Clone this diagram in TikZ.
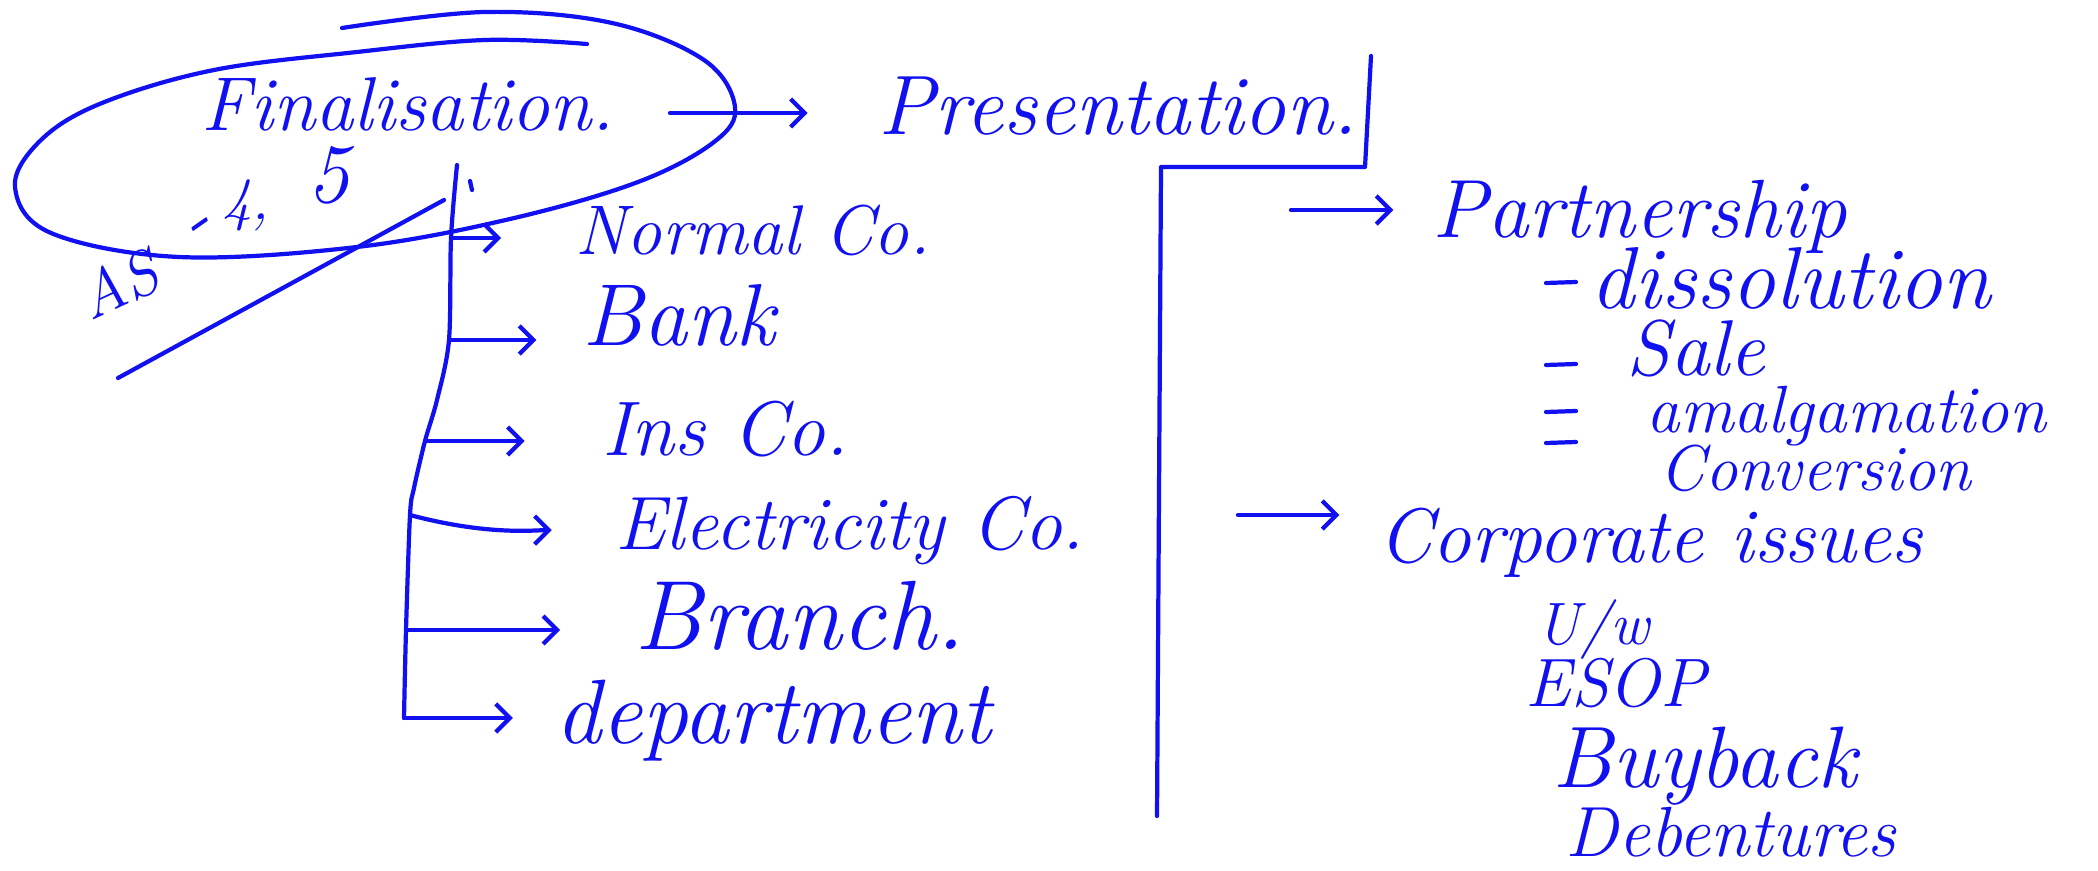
\documentclass[tikz,border=0pt]{standalone}
\usepackage{fontspec}
\usetikzlibrary{arrows.meta,positioning,calc}
\definecolor{InkBlue}{HTML}{1010F0}
\tikzset{
  hand/.style={text=InkBlue,inner sep=0pt,anchor=base west,font=\fontsize{#1}{#1}\selectfont\itshape},
  pen/.style={draw=InkBlue,line width=1.2pt,line cap=round,line join=round},
  branch/.style={pen,-{Straight Barb[length=4pt,width=8pt]}},
}

\begin{document}
\begin{tikzpicture}[x=0.01cm,y=-0.01cm]
  \useasboundingbox (0,0) rectangle (2098,870);

  % circled heading and its note
  \node[hand=21.7] (fin) at (201,131) {Finalisation.};
  \draw[pen] plot[smooth,tension=0.6] coordinates {(342,28) (485,12) (612,23) (704,60) (735,107)
    (714,142) (638,182) (510,219) (357,247) (179,257) (51,233) (15,187) (41,140) (102,103)
    (214,70) (357,52) (485,40) (587,44)};
  \node[hand=18,anchor=center,rotate=25] (asA) at (118,285) {AS};
  \node[hand=22,anchor=center,rotate=35] (asdash) at (202,232) {-};
  \node[hand=17,anchor=center] (asfour) at (246,205) {4,};
  \node[hand=24,anchor=center] (asfive) at (329,175) {5};
  \draw[pen] (118,378) -- (444,200);

  \node[hand=24] (pres) at (878,134) {Presentation.};
  \coordinate (fa) at (670,113);
  \draw[branch,shorten >=20pt] (fa) -- (pres.west |- fa);

  % left list
  \coordinate (s1) at (451,238);
  \coordinate (s2) at (449,340);
  \coordinate (s3) at (425,441);
  \coordinate (s4) at (410,515);
  \coordinate (s5) at (406,630);
  \coordinate (s6) at (404,718);
  \draw[pen] plot[smooth] coordinates {(457,165) (s1) (s2) (437,400) (s3) (414,488) (s4) (s5) (s6)};
  \draw[pen] (470,181) -- (472,190);

  \node[hand=20] (nco) at (575,254) {Normal Co.};
  \node[hand=25] (bank) at (582,345) {Bank};
  \node[hand=22] (ins) at (602,455) {Ins Co.};
  \node[hand=21.5] (elec) at (615,549) {Electricity Co.};
  \node[hand=28] (brch) at (634,649) {Branch.};
  \node[hand=26] (dept) at (555,743) {department};

  \draw[branch,shorten >=21pt] (s1) -- (nco.west |- s1);
  \draw[branch,shorten >=13pt] (s2) -- (bank.west |- s2);
  \draw[branch,shorten >=22pt] (s3) -- (ins.west |- s3);
  \draw[branch,shorten >=18pt] (s4) to[out=-15,in=180] (elec.west);
  \draw[branch,shorten >=21pt] (s5) -- (brch.west |- s5);
  \draw[branch,shorten >=12pt] (s6) -- (dept.west |- s6);

  % right list
  \draw[pen] (1371,56) -- (1365,167) -- (1161,167) -- (1157,816);

  \node[hand=23.5] (part) at (1432,238) {Partnership};
  \coordinate (pa) at (1291,210);
  \draw[branch,shorten >=11pt] (pa) -- (part.west |- pa);
  \node[hand=25] (diss) at (1590,308) {dissolution};
  \node[hand=22.5] (sale) at (1626,375) {Sale};
  \node[hand=19] (amal) at (1646,432) {amalgamation};
  \node[hand=18.4] (conv) at (1659,490) {Conversion};
  \foreach \y in {283,365,412,443}
    \draw[pen] (1546,\y) -- (1576,\y-1);

  \node[hand=22] (corp) at (1378,562) {Corporate issues};
  \coordinate (ca) at (1238,515);
  \draw[branch,shorten >=11pt] (ca) -- (corp.west |- ca);
  \node[hand=17] (uw) at (1536,644) {U/w};
  \node[hand=19.5] (esop) at (1525,706) {ESOP};
  \node[hand=24.8] (buy) at (1552,787) {Buyback};
  \node[hand=20.2] (deb) at (1565,856) {Debentures};
\end{tikzpicture}
\end{document}
